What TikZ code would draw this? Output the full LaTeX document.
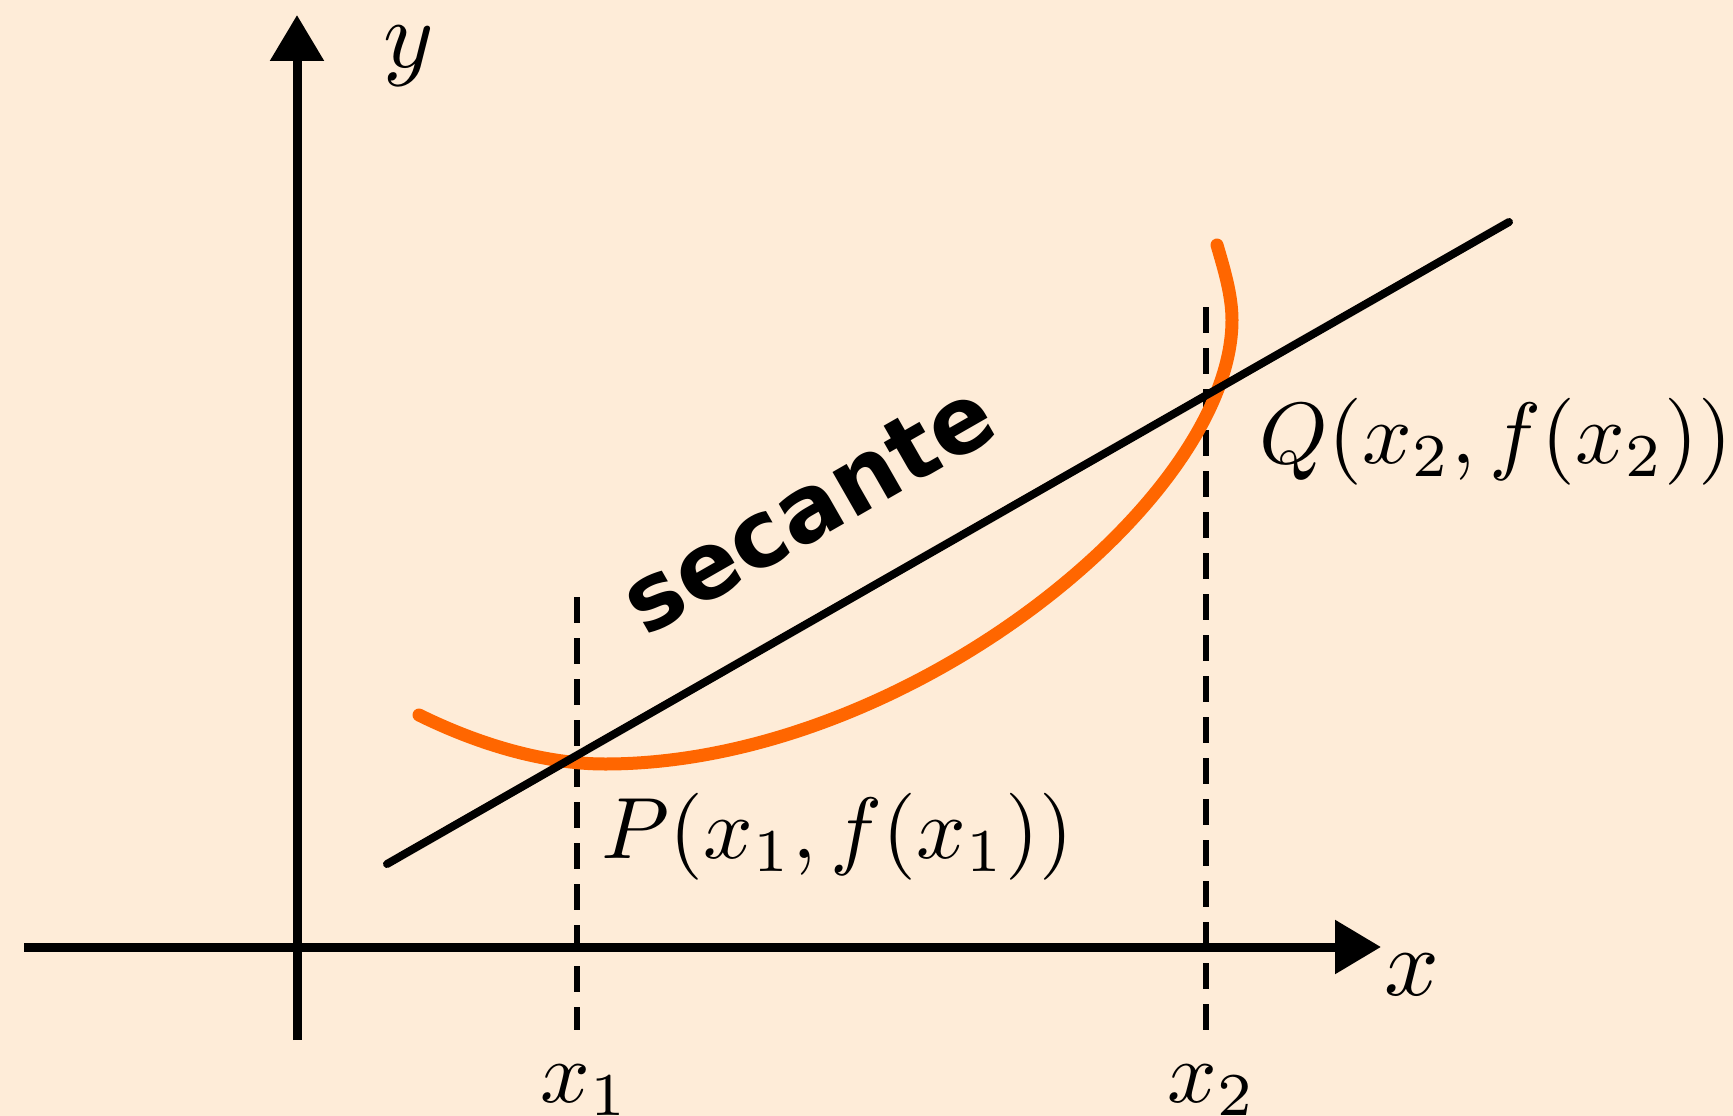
\documentclass[tikz,border=0pt]{standalone}
\usepackage{fontspec}
\newfontfamily\secfont{DejaVu Sans}
\usetikzlibrary{arrows.meta}
\definecolor{bgc}{HTML}{FEECD8}
\definecolor{curvec}{HTML}{FF6600}
\begin{document}
\begin{tikzpicture}[x=1pt,y=-1pt,
  axis/.style={line width=9pt,-{Triangle[length=46pt,width=52pt]}},
  guide/.style={line width=6pt,dash pattern=on 26pt off 15pt},
  secline/.style={line width=8pt,line cap=round},
  fcurve/.style={line width=13pt,curvec,line cap=round},
  mlabel/.style={inner sep=0pt,scale=8.7},
  axlabel/.style={inner sep=0pt,scale=9.6}]
\fill[bgc] (0,0) rectangle (1733,1116);
\useasboundingbox (0,0) rectangle (1733,1116);
% axes
\coordinate (xs) at (24,947);
\coordinate (xe) at (1381,947);
\coordinate (ys) at (297,1040);
\coordinate (ye) at (297,15);
\draw[axis] (xs) -- (xe);
\draw[axis] (ys) -- (ye);
% guides
\coordinate (g1t) at (577,597);
\coordinate (g1b) at (577,1030);
\coordinate (g2t) at (1206,307);
\coordinate (g2b) at (1206,1030);
\draw[guide] (g1t) -- (g1b);
\draw[guide] (g2t) -- (g2b);
% curve
\coordinate (c0) at (419,715);
\coordinate (cm) at (605,764);
\coordinate (cr) at (1232,320);
\coordinate (c1) at (1217,245);
\draw[fcurve] (c0) .. controls (480,745) and (545,764) .. (cm)
  .. controls (905,764) and (1232,500) .. (cr)
  .. controls (1232,295) and (1224,269) .. (c1);
% secant
\coordinate (s1) at (387,864);
\coordinate (s2) at (1509,222);
\draw[secline] (s1) -- (s2);
% labels
\node[axlabel,anchor=base] (ylab) at (409,67) {$y$};
\node[axlabel,anchor=base] (xlab) at (1412,995) {$x$};
\node[mlabel,anchor=base] (x1lab) at (585,1102) {$x_1$};
\node[mlabel,anchor=base] (x2lab) at (1212,1102) {$x_2$};
\node[mlabel,anchor=base west] (plab) at (600,858) {$P(x_1,f(x_1))$};
\node[mlabel,anchor=base west] (qlab) at (1258,463) {$Q(x_2,f(x_2))$};
\node[inner sep=0pt,rotate=29.8,font=\secfont\bfseries\fontsize{93}{93}\selectfont] (sec) at (808,508) {secante};
\end{tikzpicture}
\end{document}
